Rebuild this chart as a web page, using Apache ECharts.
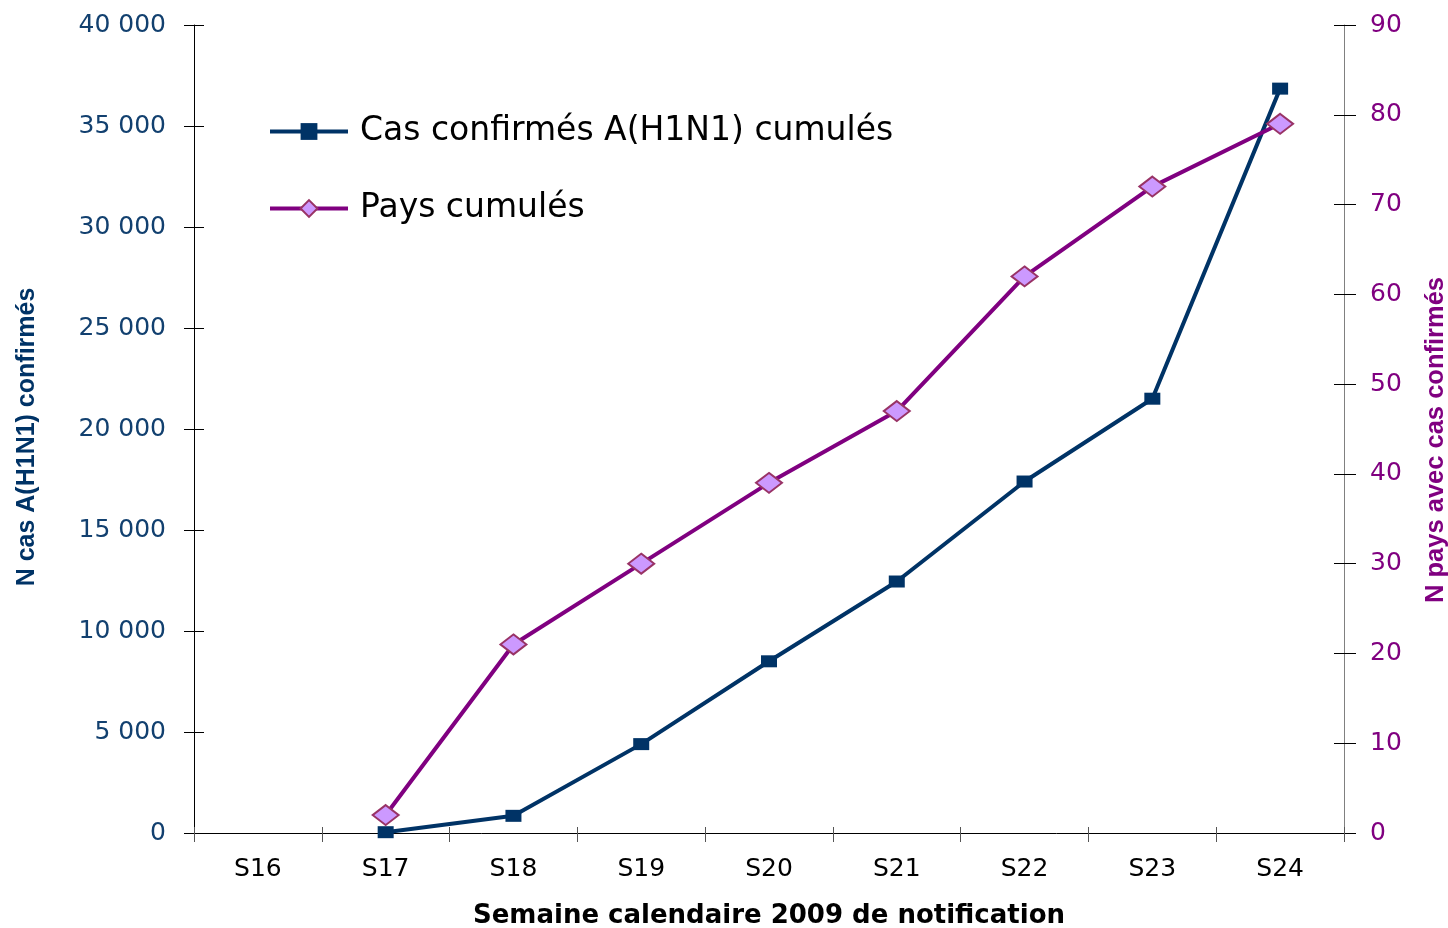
<!DOCTYPE html>
<html>
<head>
<meta charset="utf-8">
<script src="https://cdn.jsdelivr.net/npm/echarts@6/dist/echarts.min.js"></script>
<style>
html,body{margin:0;padding:0;background:#fff;}
#chart{width:1448px;height:928px;}
</style>
</head>
<body>
<div id="chart"></div>
<script>
const categories = ['S16','S17','S18','S19','S20','S21','S22','S23','S24'];
const casCumules = [null, 40, 850, 4400, 8500, 12450, 17400, 21500, 36850];
const paysCumules = [null, 2, 21, 30, 39, 47, 62, 72, 79];
const seriesNames = ['Cas confirmés A(H1N1) cumulés', 'Pays cumulés'];
const xAxisTitle = 'Semaine calendaire 2009 de notification';
const leftAxisTitle = 'N cas A(H1N1) confirmés';
const rightAxisTitle = 'N pays avec cas confirmés';

const NAVY = '#003366';
const PURPLE = '#800080';
const LABEL_BLUE = '#12406f';

const chart = echarts.init(document.getElementById('chart'));
const fmtThousands = v => String(v).replace(/\B(?=(\d{3})+(?!\d))/g, ' ');

const leftBase = {
  type: 'value', position: 'left', min: 0, max: 40000, interval: 5000,
  splitLine: {show: false}
};
const rightBase = {
  type: 'value', position: 'right', min: 0, max: 90, interval: 10,
  splitLine: {show: false}
};

chart.setOption({
  animation: false,
  backgroundColor: '#ffffff',
  grid: {left: 194, right: 104, top: 25, bottom: 95, containLabel: false, outerBoundsMode: 'none'},
  legend: {
    orient: 'vertical', left: 268, top: 115, padding: 0,
    itemWidth: 78, itemHeight: 21, itemGap: 44,
    lineStyle: {width: 4},
    textStyle: {fontFamily: 'DejaVu Sans', fontSize: 33, color: '#000', padding: [0, 0, 0, 7]},
    data: seriesNames
  },
  xAxis: [{
    type: 'category', data: categories, boundaryGap: true,
    axisLine: {lineStyle: {color: '#000', width: 1}},
    axisTick: {show: true, interval: 0, length: 9, lineStyle: {color: '#555'}},
    axisLabel: {interval: 0, margin: 24, fontFamily: 'DejaVu Sans', fontSize: 25, color: '#000'},
    name: xAxisTitle, nameLocation: 'middle', nameGap: 70,
    nameTextStyle: {fontFamily: 'DejaVu Sans', fontWeight: 'bold', fontSize: 26, color: '#000'}
  }, {
    type: 'category', data: categories, boundaryGap: true, position: 'bottom',
    axisLine: {show: false},
    axisTick: {show: true, inside: true, interval: 0, length: 6, lineStyle: {color: '#555'}},
    axisLabel: {show: false}
  }],
  yAxis: [Object.assign({}, leftBase, {
    axisLine: {show: true, lineStyle: {color: '#000', width: 1}},
    axisTick: {show: true, length: 10, lineStyle: {color: '#000'}},
    axisLabel: {margin: 28, fontFamily: 'DejaVu Sans', fontSize: 25, color: LABEL_BLUE, formatter: fmtThousands},
    name: leftAxisTitle, nameLocation: 'middle', nameGap: 154, nameRotate: 90,
    nameTextStyle: {fontFamily: 'Liberation Sans', fontWeight: 'bold', fontSize: 25, color: NAVY, padding: [0, 16, 0, 0]}
  }), Object.assign({}, rightBase, {
    axisLine: {show: true, lineStyle: {color: '#808080', width: 1}},
    axisTick: {show: true, length: 12, lineStyle: {color: '#000'}},
    axisLabel: {margin: 26, fontFamily: 'DejaVu Sans', fontSize: 25, color: PURPLE},
    name: rightAxisTitle, nameLocation: 'middle', nameGap: 79, nameRotate: 90,
    nameTextStyle: {fontFamily: 'Liberation Sans', fontWeight: 'bold', fontSize: 25.5, color: PURPLE, padding: [0, 22, 0, 0]}
  }), Object.assign({}, leftBase, {
    axisLine: {show: false},
    axisTick: {show: true, inside: true, length: 10, lineStyle: {color: '#000'}},
    axisLabel: {show: false}
  }), Object.assign({}, rightBase, {
    axisLine: {show: false},
    axisTick: {show: true, inside: true, length: 10, lineStyle: {color: '#000'}},
    axisLabel: {show: false}
  })],
  series: [{
    name: seriesNames[0], type: 'line', xAxisIndex: 0, yAxisIndex: 0,
    data: casCumules, connectNulls: false,
    symbol: 'rect', symbolSize: [16, 12],
    lineStyle: {color: NAVY, width: 4},
    itemStyle: {color: NAVY, borderColor: NAVY, borderWidth: 0},
    z: 3
  }, {
    name: seriesNames[1], type: 'line', xAxisIndex: 0, yAxisIndex: 1,
    data: paysCumules, connectNulls: false,
    symbol: 'diamond', symbolSize: [26, 20],
    lineStyle: {color: PURPLE, width: 4},
    itemStyle: {color: '#cc99ff', borderColor: '#993366', borderWidth: 2},
    z: 4
  }]
});
</script>
</body>
</html>
